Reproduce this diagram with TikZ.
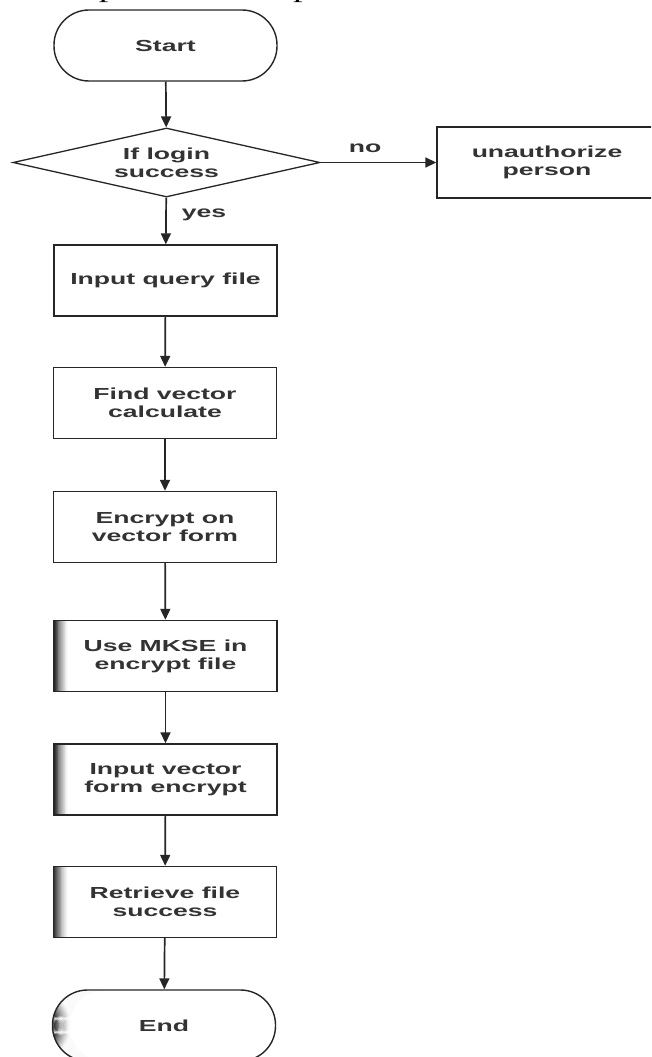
\documentclass[tikz,border=0pt]{standalone}
\usepackage{fontspec}
\newfontfamily\lblfont{Liberation Sans}[FakeStretch=1.66]
\newfontfamily\bodyfont{Liberation Serif}[FakeStretch=1.6]
\usetikzlibrary{arrows.meta,shapes.geometric}
\begin{document}
\begin{tikzpicture}[x=1pt,y=-1pt,
  lbl/.style={font=\lblfont\bfseries\fontsize{16}{18}\selectfont, text=black!80, align=center},
  proc/.style={lbl, draw=black!85, line width=1.4pt, rectangle, minimum width=223pt, minimum height=71pt, inner sep=0pt, fill=white},
  term/.style={proc, rounded corners=35pt},
  decision/.style={lbl, draw=black!85, line width=1.3pt, diamond, aspect=4.45, minimum width=307pt, minimum height=69pt, inner sep=0pt},
  flow/.style={draw=black!85, line width=1.7pt, -{Triangle[length=11pt,width=10pt]}},
  edgelbl/.style={font=\lblfont\bfseries\fontsize{16}{18}\selectfont, text=black!80, inner sep=0pt},
  gradband/.style={path picture={
    \foreach \i in {0,...,15}{
      \pgfmathsetmacro\shadeval{85*(1-\i/16)^1.4}
      \fill[black!\shadeval] ([xshift=\i*#1/16 pt]path picture bounding box.north west) rectangle ([xshift=(\i+1.1)*#1/16 pt]path picture bounding box.south west);
    }}},
  shadedbox/.style={gradband=14},
  shadedend/.style={gradband=18}
]
\useasboundingbox (0,0) rectangle (651,1057);
\clip (0,0) rectangle (651,1057);
\fill[white] (0,0) rectangle (651,1057);

\node[anchor=base west, inner sep=0pt, font=\bodyfont\fontsize{24}{28}\selectfont] (toptext) at (-10,-2.5) {It is important to explore the service that most suits};

\node[term] (start) at (165.5,45.5) {Start};
\node[decision] (login) at (166.5,162.5) {If login\\success};
\node[proc, minimum width=220pt] (unauth) at (547,162.5) {unauthorize\\person};
\node[proc] (query) at (165.5,280.5) {Input query file};
\node[proc] (find) at (165,403) {Find vector\\calculate};
\node[proc] (enc) at (165,527) {Encrypt on\\vector form};
\node[proc, shadedbox] (mkse) at (165.5,656) {Use MKSE in\\encrypt file};
\node[proc, shadedbox] (ivf) at (165.5,779.5) {Input vector\\form encrypt};
\node[proc, shadedbox] (ret) at (165,902) {Retrieve file\\success};
\node[term, shadedend] (end) at (164,1025.5) {End};

\node[edgelbl] (nolbl) at (365,148) {no};
\node[edgelbl] (yeslbl) at (204,215) {yes};

\draw[flow] (start) -- (login);
\draw[flow] (login.east) -- (unauth.west);
\draw[flow] (login) -- (query);
\draw[flow] (query) -- (find);
\draw[flow] (find) -- (enc);
\draw[flow] (enc) -- (mkse);
\draw[flow] (mkse) -- (ivf);
\draw[flow] (ivf) -- (ret);
\draw[flow] (ret) -- (end);
\end{tikzpicture}
\end{document}
